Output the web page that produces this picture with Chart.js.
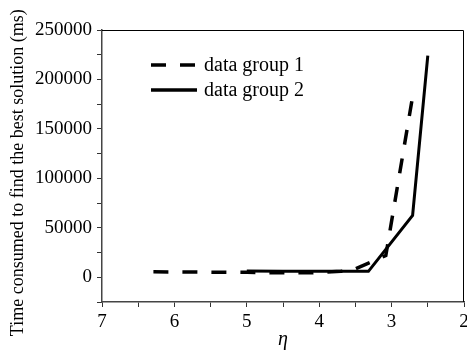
<!DOCTYPE html>
<html>
<head>
<meta charset="utf-8">
<script src="https://cdn.jsdelivr.net/npm/chart.js@4/dist/chart.umd.min.js"></script>
<style>
  html, body { margin: 0; padding: 0; background: #fff; }
  #wrap { width: 467px; height: 350px; position: relative; }
</style>
</head>
<body>
<div id="wrap"><canvas id="chart"></canvas></div>
<script>
// values
const etaGroup1 = [6.29, 5.0, 4.5, 4.1, 3.7, 3.55, 3.08, 2.7];
const timeGroup1 = [5500, 5000, 4500, 4500, 6000, 7000, 22000, 187000];
const etaGroup2 = [5.0, 4.5, 4.1, 3.7, 3.32, 2.71, 2.5];
const timeGroup2 = [6400, 6200, 6000, 6000, 6000, 62500, 224000];
const seriesLabels = ['data group 1', 'data group 2'];
const xTicks = [7, 6, 5, 4, 3, 2];
const yTicks = [0, 50000, 100000, 150000, 200000, 250000];

const serif = '"Liberation Serif", "Times New Roman", serif';

const toPoints = (xs, ys) => xs.map((x, i) => ({ x, y: ys[i] }));

// inline legend + top/right frame, like the original plot
const framePlugin = {
    id: 'frame',
    afterDraw(chart) {
        const { ctx, chartArea: a } = chart;
        ctx.save();
        ctx.strokeStyle = '#000';
        ctx.lineWidth = 1;
        ctx.beginPath();
        ctx.moveTo(a.left, a.top + 0.5);
        ctx.lineTo(a.right - 0.5, a.top + 0.5);
        ctx.lineTo(a.right - 0.5, a.bottom);
        ctx.stroke();

        chart.data.datasets.forEach((ds, i) => {
            const y = a.top + 35 + i * 25;
            const x0 = a.left + 49;
            ctx.strokeStyle = '#000';
            ctx.lineWidth = 3.5;
            ctx.setLineDash(ds.borderDash || []);
            ctx.beginPath();
            ctx.moveTo(x0, y);
            ctx.lineTo(x0 + 46, y);
            ctx.stroke();
            ctx.setLineDash([]);
            ctx.fillStyle = '#000';
            ctx.font = '20px ' + serif;
            ctx.textBaseline = 'middle';
            ctx.fillText(ds.label, x0 + 53, y + 1);
        });
        ctx.restore();
    },
};

new Chart(document.getElementById('chart'), {
    type: 'line',
    data: {
        datasets: [
            {
                label: seriesLabels[0],
                data: toPoints(etaGroup1, timeGroup1),
                borderColor: '#000',
                borderWidth: 3.5,
                borderDash: [15, 14],
                pointRadius: 0,
                tension: 0,
            },
            {
                label: seriesLabels[1],
                data: toPoints(etaGroup2, timeGroup2),
                borderColor: '#000',
                borderWidth: 3,
                pointRadius: 0,
                tension: 0,
            },
        ],
    },
    options: {
        responsive: true,
        maintainAspectRatio: false,
        animation: false,
        layout: { padding: { top: 30, right: 3, left: 0, bottom: 0 } },
        plugins: {
            legend: { display: false },
            tooltip: { enabled: false },
        },
        scales: {
            x: {
                type: 'linear',
                reverse: true,
                min: 2,
                max: 7,
                grid: { drawOnChartArea: false, tickLength: 5, tickColor: '#333', tickWidth: 1 },
                border: { color: '#444', width: 1.5 },
                ticks: {
                    stepSize: 0.5,
                    autoSkip: false,
                    maxRotation: 0,
                    padding: 4,
                    color: '#000',
                    font: { family: serif, size: 19 },
                    callback: (v) => (xTicks.includes(v) ? String(v) : ''),
                },
                title: {
                    display: true,
                    text: 'η',
                    color: '#000',
                    font: { family: serif, size: 20, style: 'italic', lineHeight: 1 },
                    padding: { top: 0, bottom: 0 },
                },
                afterFit(scale) {
                    scale.height = 48;
                    scale.paddingLeft = 0;
                    scale.paddingRight = 0;
                },
            },
            y: {
                min: -25000,
                max: 250000,
                grid: { drawOnChartArea: false, tickLength: 5, tickColor: '#333', tickWidth: 1 },
                border: { color: '#444', width: 1.5 },
                ticks: {
                    stepSize: 25000,
                    autoSkip: false,
                    padding: 5,
                    color: '#000',
                    font: { family: serif, size: 19 },
                    callback: (v) => (yTicks.includes(v) ? String(v) : ''),
                },
                title: {
                    display: true,
                    // trailing spaces nudge the centred title a little lower, as in the source
                    text: 'Time consumed to find the best solution (ms)\u00a0\u00a0\u00a0',
                    color: '#000',
                    font: { family: serif, size: 18, lineHeight: 1.2 },
                    padding: { top: 7, bottom: 0 },
                },
                afterFit(scale) {
                    scale.width = 102;
                    scale.paddingTop = 0;
                    scale.paddingBottom = 0;
                },
            },
        },
    },
    plugins: [framePlugin],
});
</script>
</body>
</html>
